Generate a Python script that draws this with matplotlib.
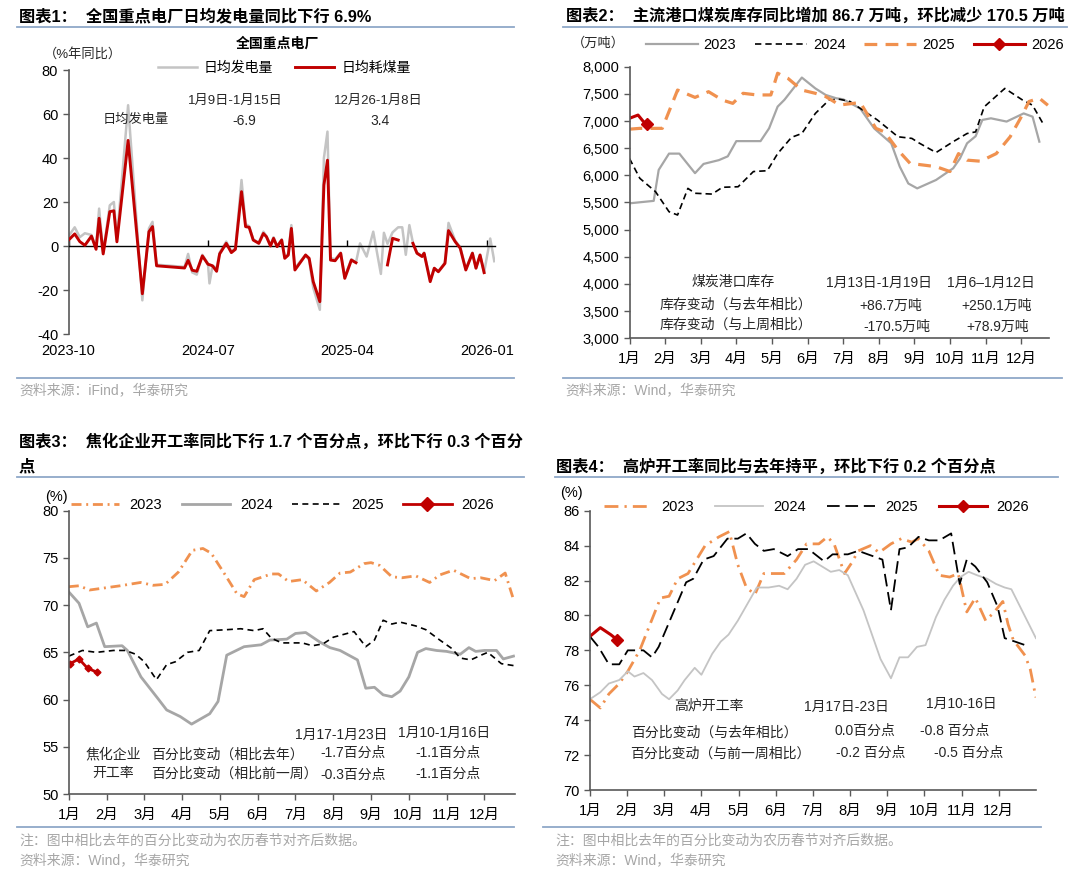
import numpy as np
import pandas as pd
import matplotlib
matplotlib.use('Agg')
import matplotlib.pyplot as plt
import matplotlib.dates as mdates
from matplotlib.lines import Line2D
from matplotlib.legend_handler import HandlerLine2D, HandlerTuple

plt.rcParams['font.family'] = ['Liberation Sans', 'Noto Sans CJK SC']
plt.rcParams['axes.unicode_minus'] = False

W, H = 1080, 873
nan = np.nan

# ---------------- 图表1 数据：全国重点电厂（%年同比） ----------------
p1_dates = ['2023-10-01', '2023-10-13', '2023-10-23', '2023-11-02', '2023-11-15', '2023-11-24',
            '2023-11-30', '2023-12-08', '2023-12-21', '2023-12-29', '2024-01-04', '2024-01-26',
            '2024-02-23', '2024-03-07', '2024-03-14', '2024-03-22', '2024-05-16', '2024-05-23',
            '2024-05-31', '2024-06-09', '2024-06-20', '2024-07-01', '2024-07-04', '2024-07-10',
            '2024-07-18', '2024-07-24', '2024-08-06', '2024-08-16', '2024-08-24', '2024-09-05',
            '2024-09-13', '2024-09-20', '2024-09-28', '2024-10-09', '2024-10-18', '2024-10-24',
            '2024-11-01', '2024-11-07', '2024-11-14', '2024-11-23', '2024-11-29', '2024-12-06',
            '2024-12-12', '2024-12-19', '2025-01-09', '2025-01-16', '2025-01-24', '2025-02-06',
            '2025-02-14', '2025-02-21', '2025-02-27', '2025-03-08', '2025-03-19', '2025-03-27',
            '2025-04-09', '2025-04-18', '2025-04-26', '2025-05-09', '2025-05-22', '2025-06-06',
            '2025-06-12', '2025-06-19', '2025-06-29', '2025-07-10', '2025-07-18', '2025-07-25',
            '2025-08-01', '2025-08-08', '2025-08-16', '2025-08-26', '2025-08-30', '2025-09-11',
            '2025-09-19', '2025-09-27', '2025-10-10', '2025-10-17', '2025-10-30', '2025-11-09',
            '2025-11-20', '2025-12-03', '2025-12-10', '2025-12-18', '2025-12-26', '2026-01-07',
            '2026-01-15']
p1_gen = [4.5, 8.5, 4.0, 5.8, 5.0, -1.0,
          17.0, -3.0, 18.5, 20.0, 3.0, 64.0,
          -24.7, 8.0, 11.0, -8.5, -9.5, -3.6,
          -12.0, -13.0, -4.0, -8.0, -17.0, -9.0,
          -10.0, -3.0, 2.0, -2.5, -1.0, 30.0,
          10.0, 9.0, 3.0, 1.5, 6.5, 4.5,
          0.5, 4.0, 0.0, 3.0, -5.0, -3.5,
          9.5, -10.0, -4.0, -6.5, -19.0, -29.0,
          40.0, 52.0, -5.5, -6.0, -3.0, -14.0,
          -6.0, -7.5, 1.2, -4.8, 6.5, -12.7,
          6.0, 1.0, 6.2, 8.5, 8.5, -4.0,
          9.5, 1.5, -3.0, -4.5, -3.0, -15.5,
          -10.0, -11.5, -7.5, 10.5, 2.5, -0.5,
          -10.5, -3.0, -10.0, -4.0, -12.0, 3.4,
          -6.9]
p1_coal = [2.7, 5.5, 2.0, 0.3, 4.5, -1.5,
           12.6, -3.6, 15.6, 16.0, 1.9, 48.0,
           -21.7, 6.5, 8.8, -9.0, -10.0, -6.5,
           -11.0, -11.5, -4.5, -8.3, -8.5, -9.0,
           -11.5, -3.6, 1.2, -3.0, -1.5, 24.7,
           8.8, 8.5, 2.7, 1.2, 5.7, 4.2,
           0.0, 3.5, -0.3, 2.7, -5.6, -4.1,
           8.0, -10.9, -4.1, -5.6, -16.2, -25.3,
           27.7, 39.0, -6.4, -6.7, -3.3, -14.7,
           -6.4, -7.6, nan, nan, nan, nan,
           nan, -8.6, 3.5, 2.7, nan, nan,
           nan, 1.2, -3.3, -4.8, -3.3, -16.2,
           -10.1, -11.7, -7.9, 7.0, 2.0, -1.0,
           -10.9, -3.3, -10.1, -4.1, -12.1, nan,
           nan]
p1_ticks = ['2023-10-01', '2024-07-01', '2025-04-01', '2026-01-01']

# ---------------- 图表2 数据：主流港口煤炭库存（万吨），x 为月份位置 ----------------
p2_x23 = [0, 0.68, 0.82, 1.11, 1.40, 1.84, 2.08, 2.51, 2.76, 3.0, 3.68, 3.92, 4.16, 4.35, 4.84, 5.22,
          5.51, 5.80, 6.0, 6.48, 6.87, 7.35, 7.59, 7.83, 8.08, 8.61, 9.09, 9.28, 9.48, 9.72, 9.91,
          10.15, 10.59, 11.07, 11.32, 11.51]
p2_y23 = [5485, 5530, 6100, 6400, 6400, 6040, 6210, 6280, 6350, 6630, 6630, 6865, 7265, 7390, 7800, 7600,
          7480, 7420, 7400, 7230, 6865, 6590, 6160, 5850, 5760, 5915, 6130, 6310, 6590, 6720, 7020,
          7050, 6990, 7140, 7080, 6620]
p2_x24 = [0, 0.29, 0.73, 1.11, 1.35, 1.64, 1.84, 2.32, 2.61, 3.05, 3.48, 3.87, 4.16, 4.55, 4.84, 5.22,
          5.61, 5.90, 6.19, 6.96, 7.54, 7.93, 8.12, 8.61, 9.09, 9.48, 9.72, 9.96, 10.54, 11.03, 11.32, 11.65]
p2_y24 = [6310, 5945, 5700, 5330, 5270, 5760, 5670, 5655, 5780, 5790, 6070, 6085, 6400, 6700, 6770, 7140,
          7390, 7400, 7360, 7020, 6710, 6680, 6600, 6420, 6620, 6770, 6800, 7260, 7600, 7390, 7290, 6910]
p2_x25 = [0, 0.29, 0.92, 1.35, 1.84, 2.22, 2.61, 2.90, 3.19, 3.58, 3.97, 4.16, 4.45, 4.84, 5.22, 5.51,
          5.90, 6.48, 6.92, 7.16, 7.54, 7.88, 8.61, 9.0, 9.24, 9.48, 9.86, 10.30, 10.69, 10.98, 11.22,
          11.51, 11.75]
p2_y25 = [6850, 6865, 6865, 7570, 7435, 7540, 7385, 7325, 7510, 7480, 7480, 7880, 7785, 7570, 7510, 7450,
          7295, 7340, 6865, 6800, 6465, 6220, 6160, 6070, 6400, 6280, 6260, 6400, 6710, 7050, 7360,
          7420, 7290]
p2_x26 = [0, 0.24, 0.39, 0.48]
p2_y26 = [7050, 7110, 6990, 6945]

# ---------------- 图表3 数据：焦化企业开工率（%） ----------------
p3_x23 = [0, 0.27, 0.55, 1.0, 1.36, 1.9, 2.23, 2.55, 2.9, 3.27, 3.55, 3.77, 4.14, 4.45, 4.64, 4.91,
          5.14, 5.36, 5.55, 5.82, 6.18, 6.55, 6.9, 7.18, 7.45, 7.82, 8.0, 8.23, 8.55, 8.82, 9.18, 9.55,
          9.82, 10.18, 10.64, 10.9, 11.27, 11.55, 11.77]
p3_y23 = [71.95, 72.05, 71.6, 71.85, 72.05, 72.4, 72.1, 72.2, 73.5, 75.8, 76.0, 75.5, 73.2, 71.2, 70.9, 72.7,
          73.0, 73.3, 73.3, 72.5, 72.7, 71.5, 72.4, 73.4, 73.5, 74.4, 74.5, 74.2, 73.0, 72.9, 73.1, 72.4,
          73.2, 73.7, 72.8, 72.9, 72.6, 73.4, 70.6]
p3_x24 = [0, 0.27, 0.5, 0.73, 0.95, 1.41, 1.55, 1.91, 2.36, 2.59, 2.95, 3.25, 3.73, 3.95, 4.18, 4.64,
          5.09, 5.32, 5.77, 6.0, 6.27, 6.64, 6.91, 7.18, 7.41, 7.64, 7.86, 8.09, 8.32, 8.55, 8.77, 9.0,
          9.23, 9.45, 9.73, 10.0, 10.36, 10.59, 10.77, 11.0, 11.32, 11.5, 11.77]
p3_y24 = [71.4, 70.2, 67.7, 68.1, 65.6, 65.7, 65.2, 62.4, 60.1, 58.9, 58.2, 57.4, 58.5, 59.8, 64.7, 65.6,
          65.8, 66.3, 66.4, 67.0, 67.1, 66.1, 65.5, 65.2, 64.7, 64.2, 61.2, 61.3, 60.5, 60.3, 60.9, 62.4,
          65.0, 65.4, 65.2, 65.1, 64.8, 65.5, 65.1, 65.2, 65.2, 64.3, 64.6]
p3_x25 = [0, 0.36, 0.73, 1.18, 1.5, 1.77, 2.0, 2.32, 2.59, 2.82, 3.14, 3.45, 3.73, 4.18, 4.55, 4.91,
          5.14, 5.36, 5.64, 6.18, 6.45, 6.73, 7.0, 7.55, 7.86, 8.09, 8.32, 8.55, 8.77, 9.18, 9.45, 9.82,
          10.14, 10.36, 10.64, 10.91, 11.09, 11.45, 11.77]
p3_y25 = [64.6, 65.2, 65.0, 65.2, 65.2, 64.8, 64.0, 62.1, 63.7, 64.0, 65.0, 65.2, 67.3, 67.4, 67.5, 67.3,
          67.5, 66.5, 66.0, 66.0, 65.7, 65.9, 66.6, 67.2, 65.6, 66.3, 68.4, 68.0, 68.2, 67.8, 67.4, 66.3,
          65.4, 64.4, 64.2, 64.7, 65.0, 63.8, 63.6]
p3_x26 = [0.03, 0.27, 0.5, 0.75]
p3_y26 = [63.8, 64.3, 63.3, 62.9]

# ---------------- 图表4 数据：高炉开工率（%） ----------------
p4_x23 = [0, 0.28, 0.51, 0.79, 1.02, 1.34, 1.62, 1.9, 2.13, 2.36, 2.64, 2.87, 3.1, 3.47, 3.75, 3.98,
          4.21, 4.44, 4.68, 5.23, 5.56, 5.83, 6.16, 6.39, 6.57, 6.85, 7.04, 7.22, 7.55, 7.78, 8.1, 8.38,
          8.66, 8.84, 9.12, 9.4, 9.68, 9.91, 10.14, 10.37, 10.65, 10.88, 11.11, 11.25, 11.39, 11.71,
          11.85, 12.0]
p4_y23 = [75.2, 74.7, 75.5, 76.1, 76.8, 78.0, 79.5, 81.0, 81.1, 82.1, 82.4, 83.2, 84.0, 84.5, 84.8, 82.9,
          81.6, 81.2, 82.4, 82.4, 83.2, 84.1, 84.1, 84.5, 84.1, 82.4, 83.0, 83.7, 84.0, 83.6, 84.1, 84.4,
          84.2, 84.4, 83.7, 82.3, 82.2, 82.4, 80.2, 81.0, 79.7, 80.2, 80.8, 79.5, 78.6, 77.7,
          76.9, 75.3]
p4_x24 = [0, 0.28, 0.51, 0.79, 1.02, 1.2, 1.44, 1.67, 1.94, 2.13, 2.36, 2.55, 2.82, 3.0, 3.29, 3.52,
          3.73, 3.98, 4.49, 4.81, 5.09, 5.32, 5.56, 5.79, 6.02, 6.25, 6.48, 6.71, 6.94, 7.36, 7.82, 8.1,
          8.33, 8.56, 8.8, 9.03, 9.31, 9.54, 9.77, 9.97, 10.19, 10.42, 10.69, 10.93, 11.16, 11.34,
          11.67, 12.0]
p4_y24 = [75.2, 75.6, 76.1, 76.3, 76.8, 76.5, 76.7, 76.3, 75.5, 75.2, 75.7, 76.3, 77.0, 76.6, 77.8, 78.5,
          78.9, 79.7, 81.6, 81.6, 81.7, 81.5, 82.1, 82.9, 83.1, 82.8, 82.5, 82.6, 82.3, 80.3, 77.5, 76.4,
          77.6, 77.6, 78.2, 78.3, 79.9, 80.9, 81.7, 82.2, 82.5, 82.3, 82.1, 81.8, 81.6, 81.5,
          80.1, 78.7]
p4_x25 = [0, 0.23, 0.51, 0.79, 1.02, 1.44, 1.67, 1.85, 2.31, 2.59, 2.78, 3.06, 3.33, 3.7, 3.98, 4.21,
          4.44, 4.68, 4.95, 5.32, 5.6, 5.88, 6.3, 6.53, 6.94, 7.22, 7.87, 8.1, 8.33, 8.56, 8.84, 9.12,
          9.4, 9.72, 9.95, 10.14, 10.37, 10.69, 10.97, 11.16, 11.44, 11.71]
p4_y25 = [78.8, 78.2, 77.2, 77.2, 78.0, 78.0, 77.6, 78.2, 80.5, 81.9, 82.1, 83.2, 83.4, 84.4, 84.4, 84.7,
          84.1, 83.7, 83.8, 83.4, 83.8, 83.8, 83.1, 83.5, 83.5, 83.7, 83.2, 80.3, 83.8, 83.9, 84.5, 84.3,
          84.3, 84.7, 81.8, 83.2, 82.8, 81.9, 80.5, 78.7, 78.5, 78.3]
p4_x26 = [0, 0.28, 0.56, 0.74]
p4_y26 = [78.8, 79.3, 78.9, 78.6]

months = ['1月', '2月', '3月', '4月', '5月', '6月', '7月', '8月', '9月', '10月', '11月', '12月']

RED = '#C00000'
ORANGE = '#F0914F'
GRAY = '#A6A6A6'
LIGHT = '#C4C4C4'
SEP = '#8FA8C8'
SRC = '#A6A6A6'
AXC = '#595959'
TXT = '#262626'
TITLE_FS = 11.7

fig = plt.figure(figsize=(W / 100, H / 100), dpi=100)


def add_ax(l, t, r, b):
    return fig.add_axes([l / W, 1 - b / H, (r - l) / W, (b - t) / H])


def ftext(x, y, s, ha='center', **kw):
    kw.setdefault('fontsize', 10)
    kw.setdefault('color', TXT)
    fig.text(x / W, 1 - y / H, s, ha=ha, va='center', **kw)


def title(x, y, s):
    ftext(x, y, s, ha='left', fontsize=TITLE_FS, fontweight='bold', color='black')


def hline(x0, x1, y, color=SEP, lw=1.3):
    fig.add_artist(Line2D([x0 / W, x1 / W], [1 - y / H, 1 - y / H], transform=fig.transFigure,
                          color=color, lw=lw))


def style(ax):
    for s in ['top', 'right']:
        ax.spines[s].set_visible(False)
    for s in ['left', 'bottom']:
        ax.spines[s].set_color(AXC)
        ax.spines[s].set_linewidth(1.2)
    ax.tick_params(labelsize=10.5, length=4, width=1, color=AXC, labelcolor='black')
    ax.set_facecolor('none')


class EndMarker(HandlerLine2D):
    # marker drawn at the right end of the legend line
    def get_xdata(self, legend, xdescent, ydescent, width, height, fontsize):
        xdata, _ = super().get_xdata(legend, xdescent, ydescent, width, height, fontsize)
        return xdata, np.array([xdata[-1]])


def put_legend(ax, handles, labels, x, y, fs, hl, htp, cs, hmap=None):
    ax.legend(handles, labels, loc='center left', bbox_to_anchor=(x / W, 1 - y / H),
              bbox_transform=fig.transFigure, ncol=len(handles), frameon=False, fontsize=fs,
              handlelength=hl, handletextpad=htp, columnspacing=cs, borderpad=0, borderaxespad=0,
              handler_map=hmap)


def month_axis(ax, xmax):
    ax.set_xlim(0, xmax)
    ax.set_xticks(range(12))
    ax.set_xticklabels(months)
    ax.tick_params(axis='x', pad=6)


# ======================= 图表1 =======================
ax1 = add_ax(68.6, 70, 494.8, 334)
style(ax1)
d1 = pd.to_datetime(p1_dates)
l_gen, = ax1.plot(d1, p1_gen, color=LIGHT, lw=1.8, zorder=2)
l_coal, = ax1.plot(d1, p1_coal, color=RED, lw=2.1, zorder=3)
ax1.set_ylim(-40, 80)
ax1.set_yticks(range(-40, 81, 20))
ax1.set_xlim(pd.Timestamp('2023-10-01'), pd.Timestamp('2026-01-16'))
t1 = pd.to_datetime(p1_ticks)
ax1.set_xticks(t1)
ax1.spines['bottom'].set_position(('data', 0))
ax1.spines['bottom'].set_color('black')
ax1.spines['bottom'].set_linewidth(1)
ax1.tick_params(axis='x', direction='in', length=4, labelbottom=False, color='black')
sec = ax1.secondary_xaxis(0)
sec.set_xticks(mdates.date2num(t1))
sec.xaxis.set_major_formatter(mdates.DateFormatter('%Y-%m'))
sec.spines['bottom'].set_visible(False)
sec.tick_params(length=0, labelsize=10.5, pad=7)
put_legend(ax1, [l_gen, l_coal], ['日均发电量', '日均耗煤量'], 158, 68.3, 10, 2.8, 0.5, 1.6)

title(19, 16, '图表1：  全国重点电厂日均发电量同比下行 6.9%')
hline(17, 514, 27.3)
hline(17, 514, 377.7)
ftext(19, 390, '资料来源：iFind，华泰研究', ha='left', color=SRC, fontsize=10)
ftext(277, 43.3, '全国重点电厂', fontweight='bold', color='black')
ftext(82.6, 54.3, '（%年同比）', fontsize=9.5)
ftext(235, 100.7, '1月9日-1月15日', fontsize=9.5)
ftext(244.5, 120.7, '-6.9', fontsize=10)
ftext(378.8, 100.7, '12月26-1月8日', fontsize=9.5)
ftext(380.5, 120.7, '3.4', fontsize=10)
ftext(136, 120, '日均发电量', fontsize=9.5)

# ======================= 图表2 =======================
ax2 = add_ax(629.5, 66.7, 1048.6, 338.3)
style(ax2)
a23, = ax2.plot(p2_x23, p2_y23, color=GRAY, lw=1.6)
a24, = ax2.plot(p2_x24, p2_y24, color='black', lw=1.2, ls=(0, (3.8, 2.4)))
a25, = ax2.plot(p2_x25, p2_y25, color=ORANGE, lw=2.3, ls=(0, (4.0, 2.6)))
a26, = ax2.plot(p2_x26, p2_y26, color=RED, lw=2.2)
e26, = ax2.plot(p2_x26[-1:], p2_y26[-1:], color=RED, marker='D', ms=6, ls='none')
ax2.set_ylim(3000, 8000)
ax2.set_yticks(range(3000, 8001, 500))
ax2.yaxis.set_major_formatter(matplotlib.ticker.FuncFormatter(lambda v, p: f'{v:,.0f}'))
month_axis(ax2, 11.77)
hm = {tuple: HandlerTuple(ndivide=1), e26: EndMarker()}
put_legend(ax2, [a23, a24, a25, (a26, e26)], ['2023', '2024', '2025', '2026'],
           646, 45, 10.5, 3.55, 0.4, 1.3, hm)
ftext(598.5, 43.3, '（万吨）', fontsize=9.5)

title(565.8, 16, '图表2：  主流港口煤炭库存同比增加 86.7 万吨，环比减少 170.5 万吨')
hline(563.4, 1067, 27.3)
hline(563.4, 1061.7, 377.7)
ftext(565.8, 390, '资料来源：Wind，华泰研究', ha='left', color=SRC, fontsize=10)
ftext(732.8, 281.7, '煤炭港口库存')
ftext(879.2, 282.7, '1月13日-1月19日')
ftext(991.1, 282.7, '1月6–1月12日')
ftext(736.3, 305, '库存变动（与去年相比）')
ftext(891.2, 306, '+86.7万吨')
ftext(996.3, 306, '+250.1万吨')
ftext(736.3, 325, '库存变动（与上周相比）')
ftext(896.4, 326.7, '-170.5万吨')
ftext(998, 326.7, '+78.9万吨')

# ======================= 图表3 =======================
ax3 = add_ax(68.8, 510.7, 515, 794)
style(ax3)
b23, = ax3.plot(p3_x23, p3_y23, color=ORANGE, lw=2.0, ls=(0, (3.6, 1.7, 0.7, 1.7)))
b24, = ax3.plot(p3_x24, p3_y24, color=GRAY, lw=2.0)
b25, = ax3.plot(p3_x25, p3_y25, color='black', lw=1.2, ls=(0, (3.6, 2.6)))
b26, = ax3.plot(p3_x26, p3_y26, color=RED, lw=2.0, marker='D', ms=3.5)
# legend-only proxy: bigger diamond at the end of the legend line
f26 = Line2D([], [], color=RED, marker='D', ms=7, ls='none')
ax3.set_ylim(50, 80)
ax3.set_yticks(range(50, 81, 5))
month_axis(ax3, 11.81)
hm3 = {tuple: HandlerTuple(ndivide=1), f26: EndMarker()}
put_legend(ax3, [b23, b24, b25, (b26, f26)], ['2023', '2024', '2025', '2026'],
           70.6, 505, 10.5, 3.3, 0.7, 1.37, hm3)
ftext(56.8, 497, '(%)', fontsize=10.5, color='black')

title(19, 441.7, '图表3：  焦化企业开工率同比下行 1.7 个百分点，环比下行 0.3 个百分')
title(19, 466.7, '点')
hline(17, 524, 477.3)
hline(17, 514, 827.3)
ftext(19, 840.7, '注：图中相比去年的百分比变动为农历春节对齐后数据。', ha='left', color=SRC, fontsize=10)
ftext(19, 860.7, '资料来源：Wind，华泰研究', ha='left', color=SRC, fontsize=10)
ftext(340.9, 735, '1月17-1月23日')
ftext(444.2, 733.3, '1月10-1月16日')
ftext(113, 754.3, '焦化企业')
ftext(227.3, 754.3, '百分比变动（相比去年）')
ftext(353, 752.7, '-1.7百分点')
ftext(447.7, 752.7, '-1.1百分点')
ftext(113, 773.3, '开工率')
ftext(234.2, 773.3, '百分比变动（相比前一周）')
ftext(353, 775, '-0.3百分点')
ftext(447.7, 774.3, '-1.1百分点')

# ======================= 图表4 =======================
ax4 = add_ax(589.9, 510.7, 1035.9, 790)
style(ax4)
c23, = ax4.plot(p4_x23, p4_y23, color=ORANGE, lw=2.0, ls=(0, (5.0, 2.2, 0.8, 2.2)))
c24, = ax4.plot(p4_x24, p4_y24, color=LIGHT, lw=1.3)
c25, = ax4.plot(p4_x25, p4_y25, color='black', lw=1.3, ls=(0, (7.0, 3.2)))
c26, = ax4.plot(p4_x26, p4_y26, color=RED, lw=2.2)
g26, = ax4.plot(p4_x26[-1:], p4_y26[-1:], color=RED, marker='D', ms=6, ls='none')
ax4.set_ylim(70, 86)
ax4.set_yticks(range(70, 87, 2))
month_axis(ax4, 12.0)
hm4 = {tuple: HandlerTuple(ndivide=1), g26: EndMarker()}
put_legend(ax4, [c23, c24, c25, (c26, g26)], ['2023', '2024', '2025', '2026'],
           603.7, 506.7, 10.5, 3.3, 0.68, 1.44, hm4)
ftext(571.7, 492.7, '(%)', fontsize=10.5, color='black')

title(556.5, 466.7, '图表4：  高炉开工率同比与去年持平，环比下行 0.2 个百分点')
hline(554.5, 1058, 477.3)
hline(543.4, 1041, 827.3)
ftext(555.5, 840.7, '注：图中相比去年的百分比变动为农历春节对齐后数据。', ha='left', color=SRC, fontsize=10)
ftext(555.5, 860.7, '资料来源：Wind，华泰研究', ha='left', color=SRC, fontsize=10)
ftext(708.7, 706, '高炉开工率')
ftext(846.5, 706.7, '1月17日-23日')
ftext(961.8, 704.3, '1月10-16日')
ftext(713.9, 732.3, '百分比变动（与去年相比）')
ftext(865.4, 731, '0.0百分点')
ftext(955, 731, '-0.8 百分点')
ftext(720.8, 753.3, '百分比变动（与前一周相比）')
ftext(870.6, 753.3, '-0.2 百分点')
ftext(968.7, 753.3, '-0.5 百分点')

fig.savefig('out.png', dpi=100, facecolor='white')
